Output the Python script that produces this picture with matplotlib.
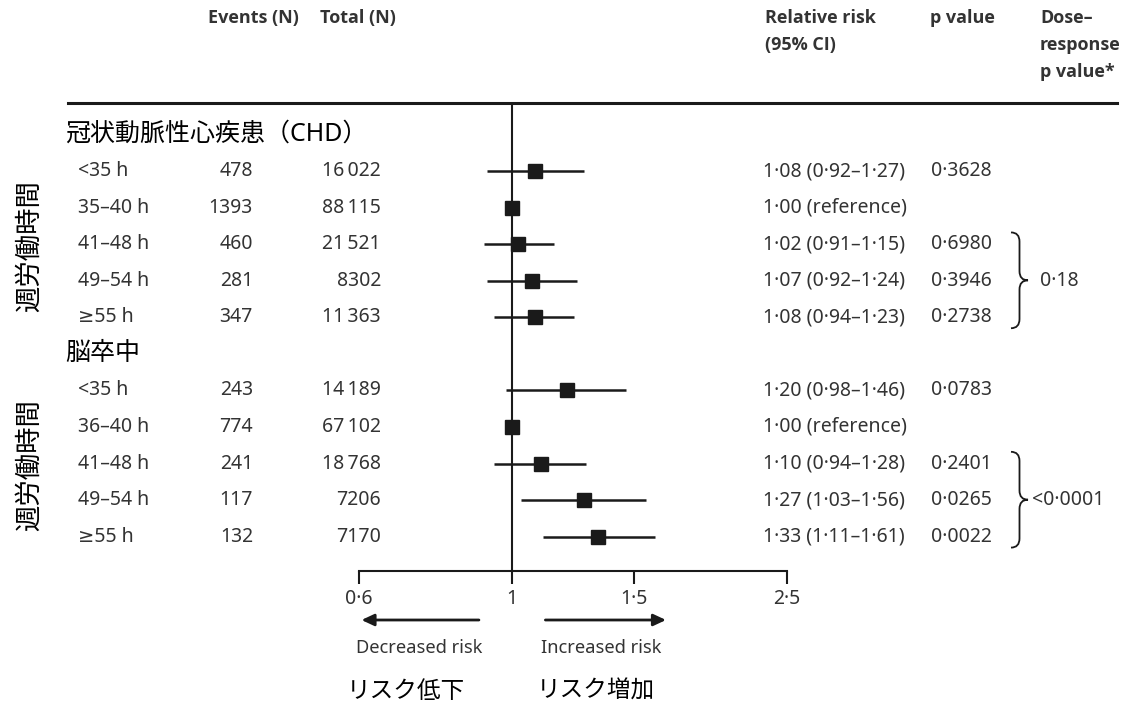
import matplotlib

matplotlib.use("Agg")
import matplotlib.pyplot as plt
import numpy as np
from matplotlib import transforms
from matplotlib.lines import Line2D
from matplotlib.patches import PathPatch
from matplotlib.path import Path
from matplotlib.ticker import NullLocator

plt.rcParams["font.family"] = ["Noto Sans", "Noto Sans CJK JP", "DejaVu Sans"]
LATIN = ["Noto Sans", "DejaVu Sans"]
BOLD = ["Open Sans", "DejaVu Sans"]

W, H = 1124, 707

# --- data -------------------------------------------------------------
hours_chd = ["<35 h", "35–40 h", "41–48 h", "49–54 h", "≥55 h"]
events_chd = [478, 1393, 460, 281, 347]
total_chd = [16022, 88115, 21521, 8302, 11363]
rr_chd = [1.08, 1.00, 1.02, 1.07, 1.08]
lo_chd = [0.92, np.nan, 0.91, 0.92, 0.94]
hi_chd = [1.27, np.nan, 1.15, 1.24, 1.23]
p_chd = ["0·3628", "", "0·6980", "0·3946", "0·2738"]
trend_chd = "0·18"

hours_stroke = ["<35 h", "36–40 h", "41–48 h", "49–54 h", "≥55 h"]
events_stroke = [243, 774, 241, 117, 132]
total_stroke = [14189, 67102, 18768, 7206, 7170]
rr_stroke = [1.20, 1.00, 1.10, 1.27, 1.33]
lo_stroke = [0.98, np.nan, 0.94, 1.03, 1.11]
hi_stroke = [1.46, np.nan, 1.28, 1.56, 1.61]
p_stroke = ["0·0783", "", "0·2401", "0·0265", "0·0022"]
trend_stroke = "<0·0001"

groups = ["冠状動脈性心疾患（CHD）", "脳卒中"]
tick_vals = [0.6, 1, 1.5, 2.5]
tick_labels = ["0·6", "1", "1·5", "2·5"]

TXT = "#333333"
INK = "#1a1a1a"


def dot(v):
    return f"{v:.2f}".replace(".", "·")


def fmt_n(n):
    return f"{n:,}".replace(",", "\u2009") if n >= 10000 else str(n)


def fx(px):
    return px / W


def fy(py):
    return 1 - py / H


def brace(fig, tr, x0, x1, y0, y1, r=0.25):
    xm = (x0 + x1) / 2
    ym = (y0 + y1) / 2
    verts = [
        (x0, y0), (xm, y0), (xm, y0 + r),
        (xm, ym - r), (xm, ym), (x1, ym),
        (xm, ym), (xm, ym + r),
        (xm, y1 - r), (xm, y1), (x0, y1),
    ]
    codes = [
        Path.MOVETO, Path.CURVE3, Path.CURVE3,
        Path.LINETO, Path.CURVE3, Path.CURVE3,
        Path.CURVE3, Path.CURVE3,
        Path.LINETO, Path.CURVE3, Path.CURVE3,
    ]
    fig.add_artist(PathPatch(Path(verts, codes), transform=tr, fill=False,
                             lw=1.3, edgecolor=INK))


fig = plt.figure(figsize=(W / 100, H / 100), dpi=100)
ax = fig.add_axes([fx(359), fy(571), fx(787) - fx(359), (571 - 103) / H])
ax.set_xscale("log")
ax.set_xlim(0.6, 2.5)
ax.set_ylim(11.94, -0.86)
ax.set_xticks(tick_vals)
ax.set_xticklabels(tick_labels, family=LATIN)
ax.xaxis.set_minor_locator(NullLocator())
ax.set_yticks([])
for s in ("top", "left", "right"):
    ax.spines[s].set_visible(False)
ax.spines["bottom"].set_linewidth(1.5)
ax.spines["bottom"].set_color(INK)
ax.tick_params(axis="x", direction="out", length=9, width=1.5, pad=4,
               labelsize=14, color=INK, labelcolor=TXT)
ax.axvline(1, color=INK, lw=1.5)

tr = transforms.blended_transform_factory(fig.transFigure, ax.transData)

# header
hdr = dict(fontsize=13, fontweight="bold", family=BOLD, color=TXT, va="center")
fig.text(fx(208), fy(18), "Events (N)", **hdr)
fig.text(fx(320), fy(18), "Total (N)", **hdr)
fig.text(fx(765), fy(18), "Relative risk", **hdr)
fig.text(fx(765), fy(45), "(95% CI)", **hdr)
fig.text(fx(930), fy(18), "p value", **hdr)
fig.text(fx(1040), fy(18), "Dose–", **hdr)
fig.text(fx(1040), fy(45), "response", **hdr)
fig.text(fx(1040), fy(72), "p value*", **hdr)
fig.add_artist(Line2D([fx(68), fx(1117)], [fy(103), fy(103)], lw=2.2, color=INK))

sections = [
    (0, groups[0], hours_chd, events_chd, total_chd, rr_chd, lo_chd, hi_chd, p_chd, trend_chd),
    (6, groups[1], hours_stroke, events_stroke, total_stroke, rr_stroke, lo_stroke, hi_stroke, p_stroke, trend_stroke),
]

body = dict(fontsize=14, family=LATIN, color=TXT, va="center", transform=tr)
for start, title, hours, ev, tot, rr, lo, hi, pv, trend in sections:
    fig.text(fx(65), start, title, fontsize=18, color="black", va="center", transform=tr)
    rows = np.arange(start + 1, start + 6)
    fig.text(fx(30), start + 3.05, "週労働時間", fontsize=19, rotation=90,
             ha="center", va="center", color="black", transform=tr)
    for i, y in enumerate(rows):
        fig.text(fx(78), y, hours[i], **body)
        fig.text(fx(253), y, str(ev[i]), ha="right", **body)
        fig.text(fx(381), y, fmt_n(tot[i]), ha="right", **body)
        if np.isnan(lo[i]):
            fig.text(fx(763), y, f"{dot(rr[i])} (reference)", **body)
        else:
            fig.text(fx(763), y, f"{dot(rr[i])} ({dot(lo[i])}–{dot(hi[i])})", **body)
            ax.hlines(y, lo[i], hi[i], color=INK, lw=1.8)
        fig.text(fx(931), y, pv[i], **body)
    ax.plot(rr, rows, "s", ms=10.5, color=INK, zorder=3)
    brace(fig, tr, fx(1011), fx(1028), rows[2] - 0.32, rows[4] + 0.3)
    fig.text(fx(1032) if trend.startswith("<") else fx(1040), rows[3], trend, **body)

# direction arrows
tra = transforms.blended_transform_factory(ax.transData, fig.transFigure)
arrow = dict(arrowstyle="-|>,head_length=0.75,head_width=0.35", lw=2, color=INK,
             shrinkA=0, shrinkB=0)
ax.annotate("", xy=(0.605, fy(620)), xytext=(0.895, fy(620)), xycoords=tra,
            textcoords=tra, arrowprops=arrow, annotation_clip=False)
ax.annotate("", xy=(1.67, fy(620)), xytext=(1.117, fy(620)), xycoords=tra,
            textcoords=tra, arrowprops=arrow, annotation_clip=False)
fig.text(fx(419), fy(648), "Decreased risk", fontsize=13.2, family=LATIN, color=TXT,
         ha="center", va="center")
fig.text(fx(601), fy(648), "Increased risk", fontsize=13.2, family=LATIN, color=TXT,
         ha="center", va="center")
fig.text(fx(406), fy(692), "リスク低下", fontsize=17, color="black", ha="center", va="center")
fig.text(fx(596), fy(692), "リスク増加", fontsize=17, color="black", ha="center", va="center")

fig.savefig("out.png", dpi=100)
